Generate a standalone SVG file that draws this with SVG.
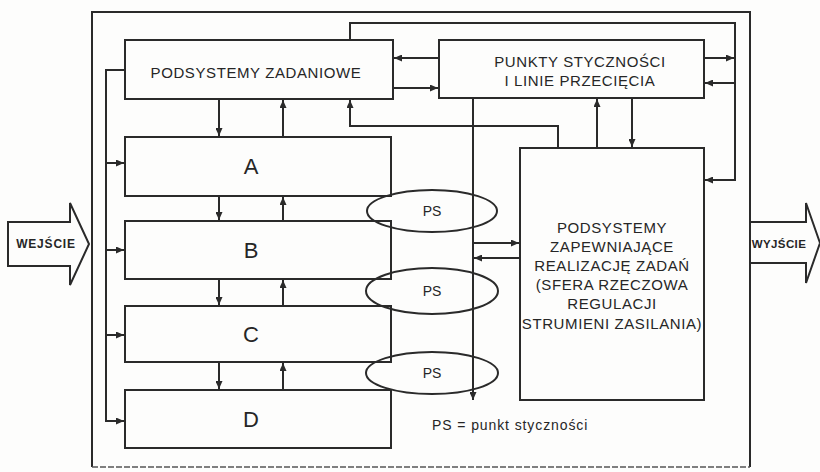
<svg xmlns="http://www.w3.org/2000/svg" width="820" height="472" viewBox="0 0 820 472">
<defs>
<marker id="ah" viewBox="0 0 8 7" refX="8" refY="3.5" markerWidth="8" markerHeight="7" markerUnits="userSpaceOnUse" orient="auto">
<path d="M0,0 L8,3.5 L0,7 z" fill="#2a2a2a"/>
</marker>
<style>
.box{fill:none;stroke:#2a2a2a;stroke-width:2}
.ell{fill:none;stroke:#2a2a2a;stroke-width:2}
.ln{fill:none;stroke:#2a2a2a;stroke-width:2}
.ar{fill:none;stroke:#2a2a2a;stroke-width:2;marker-end:url(#ah)}
.t{font-family:"Liberation Sans",Arial,sans-serif;fill:#262626;text-anchor:middle}
.big{font-size:22px}
.lab{font-size:15px;letter-spacing:0.6px}
.ps{font-size:14px}
.io{font-size:12px;font-weight:bold;letter-spacing:0.8px}
</style>
</defs>
<rect x="0" y="0" width="820" height="472" fill="#fdfdfc"/>
<g id="frame">
<path class="ln" d="M92,467 L92,12 L750,12 L750,467"/>
<path d="M92,467 L750,467" fill="none" stroke="#555" stroke-width="1.5" stroke-dasharray="6,2"/>
</g>
<g id="wejscie">
<polygon class="box" points="8,222 70,222 70,203 89,244 70,285 70,266 8,266"/>
<text class="t io" x="46" y="248">WEJŚCIE</text>
</g>
<g id="wyjscie">
<polyline class="box" points="750,222 806,222 806,203 820,243 806,283 806,263 750,263"/>
<text class="t io" x="779" y="248" style="font-size:11.5px;letter-spacing:0.4px">WYJŚCIE</text>
</g>
<g id="zadaniowe">
<rect class="box" x="125" y="40" width="268" height="59"/>
<text class="t lab" x="256" y="78">PODSYSTEMY ZADANIOWE</text>
</g>
<g id="punkty">
<rect class="box" x="439" y="40" width="265" height="58"/>
<text class="t lab" x="580" y="67">PUNKTY STYCZNOŚCI</text>
<text class="t lab" x="580" y="86">I LINIE PRZECIĘCIA</text>
</g>
<g id="A">
<rect class="box" x="125" y="137" width="266" height="59"/>
<text class="t big" x="251" y="174">A</text>
</g>
<g id="B">
<rect class="box" x="125" y="221" width="266" height="58"/>
<text class="t big" x="251" y="258">B</text>
</g>
<g id="C">
<rect class="box" x="125" y="306" width="266" height="56"/>
<text class="t big" x="251" y="342">C</text>
</g>
<g id="D">
<rect class="box" x="125" y="390" width="266" height="58"/>
<text class="t big" x="251" y="427">D</text>
</g>
<g id="zapewniajace">
<rect class="box" x="520" y="148" width="184" height="252"/>
<text class="t lab" x="612" y="233">PODSYSTEMY</text>
<text class="t lab" x="612" y="252">ZAPEWNIAJĄCE</text>
<text class="t lab" x="612" y="271">REALIZACJĘ ZADAŃ</text>
<text class="t lab" x="612" y="290">(SFERA RZECZOWA</text>
<text class="t lab" x="612" y="309">REGULACJI</text>
<text class="t lab" x="612" y="329">STRUMIENI ZASILANIA)</text>
</g>
<g id="ps1">
<ellipse class="ell" cx="432" cy="211" rx="65" ry="21"/>
<text class="t ps" x="432" y="216">PS</text>
</g>
<g id="ps2">
<ellipse class="ell" cx="432" cy="291" rx="66" ry="23"/>
<text class="t ps" x="432" y="296">PS</text>
</g>
<g id="ps3">
<ellipse class="ell" cx="432" cy="373" rx="66" ry="21"/>
<text class="t ps" x="432" y="378">PS</text>
</g>
<g id="legend">
<text class="t ps" x="432" y="430" style="text-anchor:start;letter-spacing:0.9px">PS = punkt styczności</text>
</g>
<g id="connectors">
<path class="ar" d="M350,40 L350,23 L735,23 L735,180 L705,180"/>
<path class="ar" d="M704,58 L734,58"/>
<path class="ar" d="M735,83 L705,83"/>
<path class="ar" d="M439,58 L394,58"/>
<path class="ar" d="M393,88 L438,88"/>
<path class="ln" d="M125,70 L106,70 L106,422"/>
<path class="ar" d="M106,163 L124,163"/>
<path class="ar" d="M106,250 L124,250"/>
<path class="ar" d="M106,335 L124,335"/>
<path class="ar" d="M106,421 L124,421"/>
<path class="ar" d="M219,99 L219,136"/>
<path class="ar" d="M283,137 L283,100"/>
<path class="ar" d="M219,196 L219,220"/>
<path class="ar" d="M283,221 L283,197"/>
<path class="ar" d="M219,279 L219,305"/>
<path class="ar" d="M283,306 L283,280"/>
<path class="ar" d="M219,362 L219,389"/>
<path class="ar" d="M283,390 L283,363"/>
<path class="ar" d="M558,148 L558,126 L350,126 L350,100"/>
<path class="ar" d="M473,98 L473,400"/>
<path class="ar" d="M473,243 L519,243"/>
<path class="ar" d="M520,258 L474,258"/>
<path class="ar" d="M597,148 L597,99"/>
<path class="ar" d="M632,98 L632,147"/>
</g>
</svg>
